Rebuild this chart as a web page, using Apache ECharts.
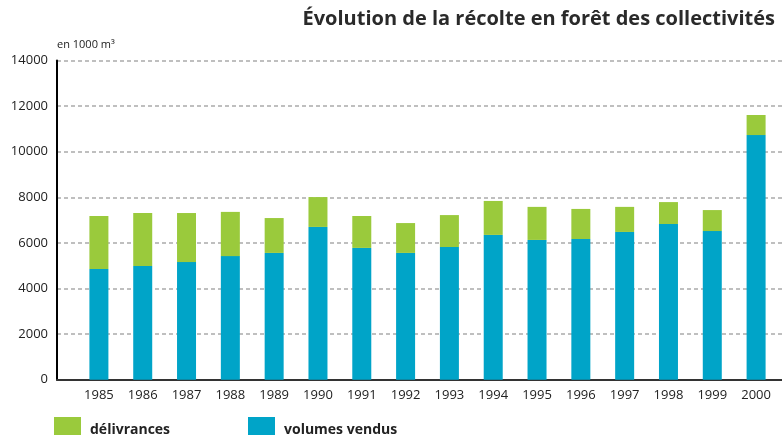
<!DOCTYPE html>
<html>
<head>
<meta charset="utf-8">
<script src="https://cdn.jsdelivr.net/npm/echarts@6/dist/echarts.min.js"></script>
<style>
  html, body { margin: 0; padding: 0; background: #fff; }
  #chart { width: 782px; height: 435px; }
</style>
</head>
<body>
<div id="chart"></div>
<script>
// années
var years = ['1985', '1986', '1987', '1988', '1989', '1990', '1991', '1992', '1993', '1994', '1995', '1996', '1997', '1998', '1999', '2000']
// en 1000 m3
var volumesVendus = [4855, 4990, 5160, 5420, 5560, 6700, 5780, 5560, 5820, 6350, 6130, 6170, 6480, 6830, 6520, 10730]
var delivrances = [2325, 2320, 2150, 1940, 1530, 1310, 1400, 1310, 1400, 1490, 1450, 1320, 1100, 960, 920, 880]

var font = '"Open Sans", "DejaVu Sans", sans-serif'
var green = '#9aca3c'
var blue = '#00a4c8'

var chart = echarts.init(document.getElementById('chart'))
chart.setOption({
  animation: false,
  textStyle: { fontFamily: font },
  title: {
    text: 'Évolution de la récolte en forêt des collectivités',
    right: 7,
    top: 9,
    padding: 0,
    textStyle: { fontSize: 20, fontWeight: 'bold', color: '#2a2a2a', fontFamily: font }
  },
  // la légende déborde en bas comme sur l'original
  legend: [
    {
      left: 54, top: 417, padding: 0, itemWidth: 27, itemHeight: 26, icon: 'rect',
      data: ['délivrances'],
      textStyle: { fontSize: 14, fontWeight: 'bold', color: '#222', padding: [0, 0, 0, 4] }
    },
    {
      left: 248, top: 417, padding: 0, itemWidth: 27, itemHeight: 26, icon: 'rect',
      data: ['volumes vendus'],
      textStyle: { fontSize: 14, fontWeight: 'bold', color: '#222', padding: [0, 0, 0, 4] }
    }
  ],
  // grille 0 : axes et quadrillage, grille 1 : barres
  grid: [
    { left: 57, right: 0, top: 60.5, bottom: 55.3 },
    { left: 77, right: 4, top: 60.5, bottom: 55.3 }
  ],
  xAxis: [
    {
      gridIndex: 0,
      type: 'value',
      min: 0,
      max: 1,
      axisLine: { lineStyle: { color: '#333', width: 2 } },
      axisTick: { show: false },
      axisLabel: { show: false },
      splitLine: { show: false }
    },
    {
      gridIndex: 1,
      type: 'category',
      data: years,
      axisLine: { show: false },
      axisTick: { show: false },
      axisLabel: { fontSize: 13, color: '#222', margin: 9 }
    }
  ],
  yAxis: [
    {
      gridIndex: 0,
      type: 'value',
      min: 0,
      max: 14000,
      interval: 2000,
      name: 'en 1000 m³',
      nameGap: 10,
      nameTextStyle: { fontSize: 11, color: '#222', align: 'left' },
      axisLine: { show: true, lineStyle: { color: '#000', width: 2 } },
      axisTick: { show: false },
      axisLabel: { fontSize: 13, color: '#222', margin: 9, formatter: function(v) { return String(v) } },
      splitLine: { lineStyle: { color: '#aaa', type: [4, 3], width: 1.5 } }
    },
    {
      gridIndex: 1,
      type: 'value',
      min: 0,
      max: 14000,
      show: false
    }
  ],
  series: [
    {
      name: 'volumes vendus',
      type: 'bar',
      xAxisIndex: 1,
      yAxisIndex: 1,
      stack: 'recolte',
      barWidth: 19,
      itemStyle: { color: blue },
      data: volumesVendus
    },
    {
      name: 'délivrances',
      type: 'bar',
      xAxisIndex: 1,
      yAxisIndex: 1,
      stack: 'recolte',
      barWidth: 19,
      itemStyle: { color: green },
      data: delivrances
    }
  ]
})
</script>
</body>
</html>
